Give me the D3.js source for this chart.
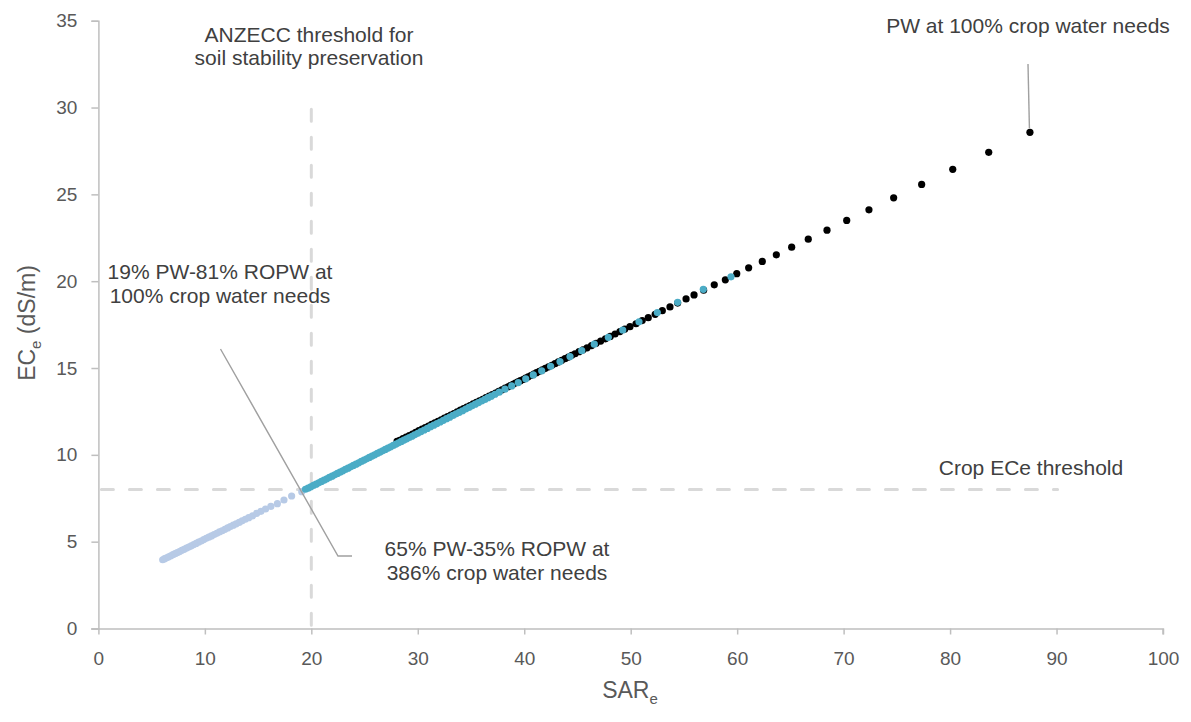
<!DOCTYPE html>
<html>
<head>
<meta charset="utf-8">
<script src="https://cdn.jsdelivr.net/npm/d3@7"></script>
<style>
  html, body { margin: 0; padding: 0; background: #ffffff; }
  svg { display: block; font-family: "Liberation Sans", Arial, sans-serif; }
</style>
</head>
<body>
<svg id="chart" width="1191" height="722"></svg>
<script>
// SARe / ECe pairs for each irrigation water scenario
const blendLowPoints = [
  [6.04, 3.96], [6.22, 4.02], [6.41, 4.07], [6.6, 4.13], [6.8, 4.19], [7.0, 4.25],
  [7.2, 4.31], [7.41, 4.37], [7.62, 4.43], [7.83, 4.5], [8.05, 4.56], [8.27, 4.63],
  [8.49, 4.69], [8.72, 4.76], [8.95, 4.83], [9.18, 4.9], [9.41, 4.97], [9.65, 5.04],
  [9.89, 5.12], [10.13, 5.19], [10.37, 5.26], [10.62, 5.33], [10.87, 5.41], [11.12, 5.48],
  [11.37, 5.56], [11.62, 5.63], [11.88, 5.71], [12.14, 5.79], [12.4, 5.87], [12.67, 5.95],
  [12.94, 6.03], [13.22, 6.11], [13.5, 6.2], [13.8, 6.29], [14.12, 6.38], [14.48, 6.49],
  [14.87, 6.63], [15.27, 6.75], [15.7, 6.88], [16.2, 7.03], [16.81, 7.19], [17.43, 7.4],
  [18.15, 7.63], [19.1, 7.88]
];

const blendHighPoints = [
  [19.45, 8.02], [19.7, 8.08], [19.95, 8.16], [20.2, 8.24], [20.45, 8.31], [20.7, 8.39],
  [20.95, 8.47], [21.2, 8.54], [21.45, 8.62], [21.7, 8.7], [21.95, 8.77], [22.2, 8.85],
  [22.45, 8.93], [22.7, 9.0], [22.95, 9.08], [23.2, 9.16], [23.45, 9.23], [23.7, 9.31],
  [23.95, 9.39], [24.2, 9.46], [24.45, 9.54], [24.7, 9.62], [24.95, 9.7], [25.2, 9.77],
  [25.45, 9.85], [25.7, 9.93], [25.95, 10.0], [26.2, 10.08], [26.45, 10.16], [26.7, 10.23],
  [26.95, 10.31], [27.2, 10.39], [27.45, 10.46], [27.7, 10.54], [27.95, 10.62], [28.2, 10.69],
  [28.45, 10.77], [28.7, 10.85], [28.95, 10.92], [29.2, 11.0], [29.45, 11.07], [29.7, 11.15],
  [30.0, 11.24], [30.3, 11.34], [30.6, 11.43], [30.9, 11.52], [31.2, 11.62], [31.5, 11.71],
  [31.8, 11.8], [32.1, 11.89], [32.4, 11.99], [32.7, 12.08], [33.0, 12.17], [33.3, 12.27],
  [33.6, 12.36], [33.9, 12.45], [34.2, 12.54], [34.5, 12.64], [34.8, 12.73], [35.1, 12.82],
  [35.4, 12.92], [35.7, 13.01], [36.0, 13.1], [36.3, 13.19], [36.6, 13.29], [36.9, 13.38],
  [37.25, 13.49], [37.65, 13.61], [38.19, 13.78], [38.82, 13.97], [39.44, 14.16], [40.14, 14.38],
  [40.85, 14.6], [41.64, 14.84], [42.48, 15.1], [43.36, 15.37], [44.3, 15.66], [45.4, 16.0],
  [46.58, 16.37], [47.9, 16.77], [49.25, 17.19], [50.78, 17.66], [52.5, 18.19], [54.41, 18.78],
  [56.82, 19.53], [59.42, 20.25]
];

const pwPoints = [
  [28.05, 10.77], [28.3, 10.84], [28.6, 10.93], [28.9, 11.02], [29.2, 11.11], [29.5, 11.2],
  [29.8, 11.29], [30.1, 11.39], [30.4, 11.48], [30.7, 11.57], [31.0, 11.66], [31.3, 11.75],
  [31.6, 11.84], [31.9, 11.93], [32.2, 12.02], [32.5, 12.11], [32.8, 12.2], [33.1, 12.29],
  [33.4, 12.38], [33.7, 12.47], [34.0, 12.57], [34.3, 12.66], [34.6, 12.75], [34.9, 12.84],
  [35.2, 12.93], [35.5, 13.02], [35.8, 13.11], [36.1, 13.2], [36.4, 13.29], [36.7, 13.38],
  [37.0, 13.47], [37.3, 13.56], [37.6, 13.65], [37.9, 13.74], [38.2, 13.84], [38.48, 13.92],
  [38.71, 13.99], [38.94, 14.06], [39.17, 14.13], [39.4, 14.2], [39.64, 14.27], [39.88, 14.34],
  [40.12, 14.42], [40.37, 14.49], [40.62, 14.57], [40.88, 14.65], [41.15, 14.73], [41.42, 14.81],
  [41.7, 14.89], [41.98, 14.98], [42.28, 15.07], [42.59, 15.16], [42.89, 15.25], [43.2, 15.35],
  [43.52, 15.44], [43.83, 15.54], [44.14, 15.63], [44.46, 15.73], [44.77, 15.82], [45.15, 15.94],
  [45.52, 16.05], [45.9, 16.16], [46.32, 16.29], [46.75, 16.42], [47.18, 16.55], [47.63, 16.68],
  [48.08, 16.82], [48.53, 16.96], [48.99, 17.1], [49.45, 17.24], [49.93, 17.38], [50.5, 17.55],
  [51.08, 17.73], [51.65, 17.9], [52.3, 18.09], [52.97, 18.3], [53.69, 18.52], [54.41, 18.74],
  [55.2, 18.98], [55.95, 19.21], [56.85, 19.48], [57.85, 19.79], [58.89, 20.08], [59.96, 20.43],
  [61.08, 20.77], [62.36, 21.14], [63.68, 21.52], [65.12, 21.96], [66.68, 22.42], [68.44, 22.94],
  [70.29, 23.5], [72.38, 24.11], [74.7, 24.8], [77.33, 25.57], [80.25, 26.44], [83.63, 27.42],
  [87.5, 28.57]
];

const xTicks = [0, 10, 20, 30, 40, 50, 60, 70, 80, 90, 100];
const yTicks = [0, 5, 10, 15, 20, 25, 30, 35];

// Threshold guides: SARe 20 (soil stability), ECe 8 (crop tolerance)
const sarThreshold = { value: 20, from: 0, to: 29.9 };
const eceThreshold = { value: 8, from: 0, to: 90.1 };

const svg = d3.select("#chart");

const x = d3.scaleLinear().domain([0, 100]).range([98.4, 1163]);
const y = d3.scaleLinear().domain([0, 35]).range([628.5, 20.7]);

const axisColor = "#bfbfbf";
const labelColor = "#595959";
const noteColor = "#404040";

// Threshold dashed lines
const guides = svg.append("g")
  .attr("stroke", "#d9d9d9")
  .attr("stroke-width", 3)
  .attr("stroke-dasharray", "12,16")
  .attr("stroke-linecap", "round")
  .attr("fill", "none");

guides.append("line")
  .attr("x1", x(sarThreshold.value)).attr("x2", x(sarThreshold.value))
  .attr("y1", y(sarThreshold.to)).attr("y2", y(sarThreshold.from));

guides.append("line")
  .attr("x1", x(eceThreshold.from) + 3).attr("x2", x(eceThreshold.to))
  .attr("y1", y(eceThreshold.value)).attr("y2", y(eceThreshold.value));

// Axes
const xAxis = d3.axisBottom(x).tickValues(xTicks).tickSize(6).tickPadding(17);
const yAxis = d3.axisLeft(y).tickValues(yTicks).tickSize(7).tickPadding(14);

const gx = svg.append("g").attr("transform", `translate(0,${y(0)})`).call(xAxis);
const gy = svg.append("g").attr("transform", `translate(${x(0)},0)`).call(yAxis);

[gx, gy].forEach(g => {
  g.select(".domain").attr("stroke", axisColor).attr("stroke-width", 1.5);
  g.selectAll(".tick line").attr("stroke", axisColor).attr("stroke-width", 1.5);
  g.selectAll(".tick text")
    .attr("fill", labelColor)
    .style("font-size", "19px")
    .style("font-family", "'Liberation Sans', Arial, sans-serif");
});
// extend x axis line left to meet the y ticks
gx.select(".domain").attr("d", `M${x(0) - 7},0.5H${x(100)}V6`);

// Scatter series
const r = 3.6;
function drawSeries(points, color) {
  svg.append("g").selectAll("circle")
    .data(points)
    .join("circle")
    .attr("cx", d => x(d[0]))
    .attr("cy", d => y(d[1]))
    .attr("r", r)
    .attr("fill", color);
}
drawSeries(blendLowPoints, "#b7cae6");
drawSeries(pwPoints, "#000000");
drawSeries(blendHighPoints, "#4bacc6");

// Axis titles
svg.append("text")
  .attr("x", 630).attr("y", 698)
  .attr("text-anchor", "middle")
  .attr("fill", labelColor)
  .style("font-size", "23px")
  .call(t => {
    t.append("tspan").text("SAR");
    t.append("tspan").attr("dy", 6).style("font-size", "15px").text("e");
  });

svg.append("text")
  .attr("transform", "translate(35,323) rotate(-90)")
  .attr("text-anchor", "middle")
  .attr("fill", labelColor)
  .style("font-size", "23px")
  .call(t => {
    t.append("tspan").text("EC");
    t.append("tspan").attr("dy", 6).style("font-size", "15px").text("e");
    t.append("tspan").attr("dy", -6).text(" (dS/m)");
  });

// Annotations
function note(lines, cx, baseline, lineGap) {
  const t = svg.append("text")
    .attr("text-anchor", "middle")
    .attr("fill", noteColor)
    .style("font-size", "21px");
  lines.forEach((s, i) => {
    t.append("tspan").attr("x", cx).attr("y", baseline + i * lineGap).text(s);
  });
}
note(["ANZECC threshold for", "soil stability preservation"], 309, 42, 23);
note(["PW at 100% crop water needs"], 1028, 33, 23);
note(["19% PW-81% ROPW at", "100% crop water needs"], 220, 279, 24);
note(["65% PW-35% ROPW at", "386% crop water needs"], 497, 556, 24);
note(["Crop ECe threshold"], 1031, 475, 23);

// Leader lines
const leaders = svg.append("g")
  .attr("stroke", "#a0a0a0")
  .attr("stroke-width", 1.4)
  .attr("fill", "none");
leaders.append("path").attr("d", "M220.5,349 L338,556 L352,556");
leaders.append("path").attr("d", `M1028,64 L${x(87.5) - 0.5},${y(28.57) - 4}`);
</script>
</body>
</html>
